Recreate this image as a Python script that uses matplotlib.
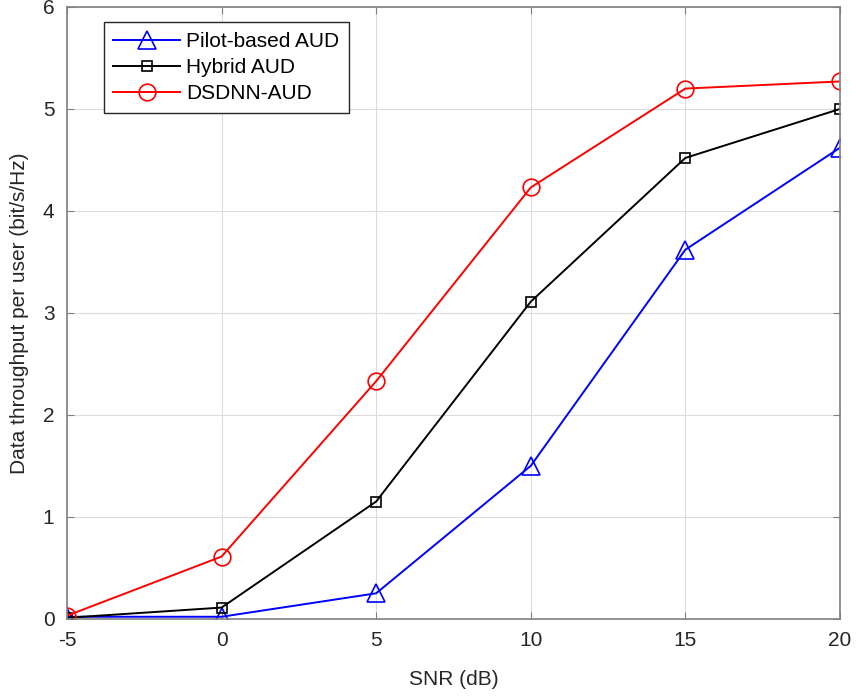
import matplotlib
matplotlib.use('Agg')
import matplotlib.pyplot as plt

plt.rcParams['font.family'] = ['Liberation Sans', 'DejaVu Sans']
plt.rcParams['axes.unicode_minus'] = False

snr = [-5, 0, 5, 10, 15, 20]
pilot_based = [0.02, 0.02, 0.25, 1.50, 3.62, 4.62]
hybrid = [0.01, 0.11, 1.15, 3.11, 4.52, 5.00]
dsdnn = [0.03, 0.61, 2.33, 4.23, 5.20, 5.27]

x_ticks = [-5, 0, 5, 10, 15, 20]
y_ticks = [0, 1, 2, 3, 4, 5, 6]


def main():
    fig = plt.figure(figsize=(8.58, 7.0), dpi=100)
    ax = fig.add_axes([0.078, 0.116, 0.901, 0.874])

    ax.plot(snr, pilot_based, color='#0000ff', marker='^', markersize=13,
            markerfacecolor='none', markeredgewidth=1.2, linewidth=1.4,
            label='Pilot-based AUD')
    ax.plot(snr, hybrid, color='black', marker='s', markersize=7,
            markerfacecolor='none', markeredgewidth=1.2, linewidth=1.4,
            label='Hybrid AUD')
    ax.plot(snr, dsdnn, color='#ff0000', marker='o', markersize=12,
            markerfacecolor='none', markeredgewidth=1.2, linewidth=1.4,
            label='DSDNN-AUD')

    ax.set_xlim(-5, 20)
    ax.set_ylim(0, 6)
    ax.set_xticks(x_ticks)
    ax.set_yticks(y_ticks)
    ax.grid(True, color='#dcdcdc', linewidth=0.8)
    ax.set_axisbelow(True)

    for s in ax.spines.values():
        s.set_color('#808080')
        s.set_linewidth(1.2)
    ax.tick_params(direction='in', colors='#808080', labelcolor='#262626',
                   labelsize=15, top=True, right=True, length=5, pad=9)

    ax.set_xlabel('SNR (dB)', fontsize=15, color='#262626', labelpad=14)
    ax.set_ylabel('Data throughput per user (bit/s/Hz)', fontsize=15,
                  color='#262626', labelpad=10)

    leg = ax.legend(loc='upper left', bbox_to_anchor=(0.04, 0.985), fontsize=15,
                    fancybox=False, framealpha=1, edgecolor='#262626',
                    handlelength=3.2, borderpad=0.45, labelspacing=0.35,
                    handletextpad=0.3, borderaxespad=0.3)
    leg.get_frame().set_linewidth(1.0)

    fig.savefig('out.png', dpi=100)


if __name__ == '__main__':
    main()
